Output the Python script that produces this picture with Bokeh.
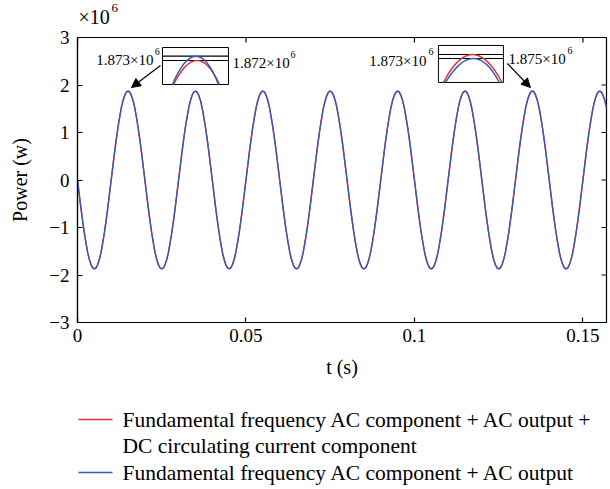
from bokeh.plotting import figure
from bokeh.layouts import column
from bokeh.models import Range1d, FixedTicker, Label, Arrow, NormalHead
from bokeh.core.properties import value
from bokeh.embed import file_html
from bokeh.resources import INLINE

# ---------------- data (time step 0.5 ms; power in units of 10^6 W) ----------------
time_halfms = list(range(315))

power_blue = [
    0.00, -0.29, -0.58, -0.85, -1.10, -1.32, -1.52, -1.67, -1.78, -1.85, -1.87, -1.85, -1.78, -1.67, -1.52, -1.32, -1.10, -0.85, -0.58, -0.29,
    0.00, 0.29, 0.58, 0.85, 1.10, 1.32, 1.52, 1.67, 1.78, 1.85, 1.873, 1.85, 1.78, 1.67, 1.52, 1.32, 1.10, 0.85, 0.58, 0.29,
    0.00, -0.29, -0.58, -0.85, -1.10, -1.32, -1.52, -1.67, -1.78, -1.85, -1.87, -1.85, -1.78, -1.67, -1.52, -1.32, -1.10, -0.85, -0.58, -0.29,
    0.00, 0.29, 0.58, 0.85, 1.10, 1.32, 1.52, 1.67, 1.78, 1.85, 1.873, 1.85, 1.78, 1.67, 1.52, 1.32, 1.10, 0.85, 0.58, 0.29,
    0.00, -0.29, -0.58, -0.85, -1.10, -1.32, -1.52, -1.67, -1.78, -1.85, -1.87, -1.85, -1.78, -1.67, -1.52, -1.32, -1.10, -0.85, -0.58, -0.29,
    0.00, 0.29, 0.58, 0.85, 1.10, 1.32, 1.52, 1.67, 1.78, 1.85, 1.873, 1.85, 1.78, 1.67, 1.52, 1.32, 1.10, 0.85, 0.58, 0.29,
    0.00, -0.29, -0.58, -0.85, -1.10, -1.32, -1.52, -1.67, -1.78, -1.85, -1.87, -1.85, -1.78, -1.67, -1.52, -1.32, -1.10, -0.85, -0.58, -0.29,
    0.00, 0.29, 0.58, 0.85, 1.10, 1.32, 1.52, 1.67, 1.78, 1.85, 1.873, 1.85, 1.78, 1.67, 1.52, 1.32, 1.10, 0.85, 0.58, 0.29,
    0.00, -0.29, -0.58, -0.85, -1.10, -1.32, -1.52, -1.67, -1.78, -1.85, -1.87, -1.85, -1.78, -1.67, -1.52, -1.32, -1.10, -0.85, -0.58, -0.29,
    0.00, 0.29, 0.58, 0.85, 1.10, 1.32, 1.52, 1.67, 1.78, 1.85, 1.873, 1.85, 1.78, 1.67, 1.52, 1.32, 1.10, 0.85, 0.58, 0.29,
    0.00, -0.29, -0.58, -0.85, -1.10, -1.32, -1.52, -1.67, -1.78, -1.85, -1.87, -1.85, -1.78, -1.67, -1.52, -1.32, -1.10, -0.85, -0.58, -0.29,
    0.00, 0.29, 0.58, 0.85, 1.10, 1.32, 1.52, 1.67, 1.78, 1.85, 1.873, 1.85, 1.78, 1.67, 1.52, 1.32, 1.10, 0.85, 0.58, 0.29,
    0.00, -0.29, -0.58, -0.85, -1.10, -1.32, -1.52, -1.67, -1.78, -1.85, -1.87, -1.85, -1.78, -1.67, -1.52, -1.32, -1.10, -0.85, -0.58, -0.29,
    0.00, 0.29, 0.58, 0.85, 1.10, 1.32, 1.52, 1.67, 1.78, 1.85, 1.873, 1.85, 1.78, 1.67, 1.52, 1.32, 1.10, 0.85, 0.58, 0.29,
    0.00, -0.29, -0.58, -0.85, -1.10, -1.32, -1.52, -1.67, -1.78, -1.85, -1.87, -1.85, -1.78, -1.67, -1.52, -1.32, -1.10, -0.85, -0.58, -0.29,
    0.00, 0.29, 0.58, 0.85, 1.10, 1.32, 1.52, 1.67, 1.78, 1.85, 1.873, 1.85, 1.78, 1.67, 1.52,
]

power_red = [
    0.00, -0.29, -0.58, -0.85, -1.10, -1.32, -1.52, -1.67, -1.78, -1.85, -1.87, -1.85, -1.78, -1.67, -1.52, -1.32, -1.10, -0.85, -0.58, -0.29,
    0.00, 0.29, 0.58, 0.85, 1.10, 1.32, 1.52, 1.67, 1.78, 1.85, 1.872, 1.85, 1.78, 1.67, 1.52, 1.32, 1.10, 0.85, 0.58, 0.29,
    0.00, -0.29, -0.58, -0.85, -1.10, -1.32, -1.52, -1.67, -1.78, -1.85, -1.87, -1.85, -1.78, -1.67, -1.52, -1.32, -1.10, -0.85, -0.58, -0.29,
    0.00, 0.29, 0.58, 0.85, 1.10, 1.32, 1.52, 1.67, 1.78, 1.85, 1.873, 1.85, 1.78, 1.67, 1.52, 1.32, 1.10, 0.85, 0.58, 0.29,
    0.00, -0.29, -0.58, -0.85, -1.10, -1.32, -1.52, -1.67, -1.78, -1.85, -1.87, -1.85, -1.78, -1.67, -1.52, -1.32, -1.10, -0.85, -0.58, -0.29,
    0.00, 0.29, 0.58, 0.85, 1.10, 1.32, 1.52, 1.67, 1.78, 1.85, 1.873, 1.85, 1.78, 1.67, 1.52, 1.32, 1.10, 0.85, 0.58, 0.29,
    0.00, -0.29, -0.58, -0.85, -1.10, -1.32, -1.52, -1.67, -1.78, -1.85, -1.87, -1.85, -1.78, -1.67, -1.52, -1.32, -1.10, -0.85, -0.58, -0.29,
    0.00, 0.29, 0.58, 0.85, 1.10, 1.32, 1.52, 1.67, 1.78, 1.85, 1.873, 1.85, 1.78, 1.67, 1.52, 1.32, 1.10, 0.85, 0.58, 0.29,
    0.00, -0.29, -0.58, -0.85, -1.10, -1.32, -1.52, -1.67, -1.78, -1.85, -1.87, -1.85, -1.78, -1.67, -1.52, -1.32, -1.10, -0.85, -0.58, -0.29,
    0.00, 0.29, 0.58, 0.85, 1.10, 1.32, 1.52, 1.67, 1.78, 1.85, 1.873, 1.85, 1.78, 1.67, 1.52, 1.32, 1.10, 0.85, 0.58, 0.29,
    0.00, -0.29, -0.58, -0.85, -1.10, -1.32, -1.52, -1.67, -1.78, -1.85, -1.87, -1.85, -1.78, -1.67, -1.52, -1.32, -1.10, -0.85, -0.58, -0.29,
    0.00, 0.29, 0.58, 0.85, 1.10, 1.32, 1.52, 1.67, 1.78, 1.85, 1.873, 1.85, 1.78, 1.67, 1.52, 1.32, 1.10, 0.85, 0.58, 0.29,
    0.00, -0.29, -0.58, -0.85, -1.10, -1.32, -1.52, -1.67, -1.78, -1.85, -1.87, -1.85, -1.78, -1.67, -1.52, -1.32, -1.10, -0.85, -0.58, -0.29,
    0.00, 0.29, 0.58, 0.85, 1.10, 1.32, 1.52, 1.67, 1.78, 1.85, 1.875, 1.85, 1.78, 1.67, 1.52, 1.32, 1.10, 0.85, 0.58, 0.29,
    0.00, -0.29, -0.58, -0.85, -1.10, -1.32, -1.52, -1.67, -1.78, -1.85, -1.87, -1.85, -1.78, -1.67, -1.52, -1.32, -1.10, -0.85, -0.58, -0.29,
    0.00, 0.29, 0.58, 0.85, 1.10, 1.32, 1.52, 1.67, 1.78, 1.85, 1.873, 1.85, 1.78, 1.67, 1.52,
]

x_ticks = [0, 0.05, 0.1, 0.15]
x_tick_labels = ["0", "0.05", "0.1", "0.15"]
y_ticks = [-3, -2, -1, 0, 1, 2, 3]
y_tick_labels = ["\u22123", "\u22122", "\u22121", "0", "1", "2", "3"]

peak_labels_left = ["1.873\u00d710", "1.872\u00d710"]
peak_labels_right = ["1.873\u00d710", "1.875\u00d710"]

legend_red = ["Fundamental frequency AC component + AC output +", "DC circulating current component"]
legend_blue = "Fundamental frequency AC component + AC output"

RED = "#e8312c"
BLUE = "#2d5bbf"
FONT = "Liberation Serif"

t_s = [k / 2000 for k in time_halfms]

X_MAX = 0.157
FRAME_L, FRAME_R = 77, 606   # px, shared by all three strips
FRAME_W = FRAME_R - FRAME_L
FRAME_H = 285.0
HDR_H = 26

# ---------------- header strip (axis multiplier) ----------------
hdr = figure(width=610, height=HDR_H, output_backend="svg", toolbar_location=None,
             x_range=Range1d(FRAME_L, FRAME_R), y_range=Range1d(HDR_H, 0),
             x_axis_type=None, y_axis_type=None,
             min_border_left=FRAME_L, min_border_right=610 - FRAME_R,
             min_border_top=0, min_border_bottom=0)
hdr.outline_line_color = None
hdr.grid.visible = False
hdr.text(x=[78], y=[16], text=["\u00d710"], text_font=value(FONT), text_font_size="20px",
         text_align="left", text_baseline="middle", text_color="black")
hdr.text(x=[111], y=[7.5], text=["6"], text_font=value(FONT), text_font_size="13px",
         text_align="left", text_baseline="middle", text_color="black")

# ---------------- main figure ----------------
p = figure(width=610, height=390 - HDR_H, output_backend="svg", toolbar_location=None,
           x_range=Range1d(0, X_MAX), y_range=Range1d(-3, 3),
           min_border_left=FRAME_L, min_border_right=610 - FRAME_R,
           min_border_top=37 - HDR_H, min_border_bottom=68)
p.background_fill_color = "white"
p.border_fill_color = "white"
p.outline_line_color = "black"
p.outline_line_width = 1.2
p.xgrid.visible = False
p.ygrid.visible = False

xa = p.xaxis[0]
xa.ticker = FixedTicker(ticks=x_ticks)
xa.major_label_overrides = {k: v for k, v in zip(x_ticks, x_tick_labels)}
ya = p.yaxis[0]
ya.ticker = FixedTicker(ticks=y_ticks)
ya.major_label_overrides = {k: v for k, v in zip(y_ticks, y_tick_labels)}

for ax in (xa, ya):
    ax.major_tick_in = 5
    ax.major_tick_out = 0
    ax.minor_tick_line_color = None
    ax.axis_line_color = "black"
    ax.axis_line_width = 1.2
    ax.major_tick_line_width = 1.2
    ax.major_label_text_font = FONT
    ax.major_label_text_font_size = "19px"
    ax.major_label_text_color = "black"
    ax.axis_label_text_font = FONT
    ax.axis_label_text_font_size = "20px"
    ax.axis_label_text_font_style = "normal"
    ax.axis_label_text_color = "black"

xa.axis_label = "t (s)"
xa.major_label_standoff = 6
xa.axis_label_standoff = 11
ya.axis_label = "Power (w)"
ya.major_label_standoff = 8
ya.axis_label_standoff = 15

# mirrored inward ticks on top and right edges (5 px long)
tick_dy = 5 * 6.0 / FRAME_H
tick_dx = 5 * X_MAX / FRAME_W
p.segment(x0=x_ticks, x1=x_ticks, y0=[3] * len(x_ticks), y1=[3 - tick_dy] * len(x_ticks),
          line_color="black", line_width=1.2)
p.segment(x0=[X_MAX] * len(y_ticks), x1=[X_MAX - tick_dx] * len(y_ticks), y0=y_ticks, y1=y_ticks,
          line_color="black", line_width=1.2)

# ---------------- curves ----------------
p.line(t_s, power_red, line_color=RED, line_width=1.5)
p.line(t_s, power_blue, line_color=BLUE, line_width=1.3)

# ---------------- insets (zoomed peaks) ----------------
def inset(l, r, b, t, y_up, y_lo, blue_arc, red_arc):
    p.quad(left=[l], right=[r], bottom=[b], top=[t], fill_color="white",
           line_color="black", line_width=1)
    p.segment(x0=[l, l], x1=[r, r], y0=[y_up, y_lo], y1=[y_up, y_lo],
              line_color="black", line_width=1.2)
    for (x0, x1, xp, yp), col in ((red_arc, RED), (blue_arc, BLUE)):
        p.quadratic(x0=[x0], y0=[b], x1=[x1], y1=[b], cx=[xp], cy=[2 * yp - b],
                    line_color=col, line_width=1.5)

inset(0.02522, 0.04481, 2.011, 2.789, 2.606, 2.516,
      (0.02819, 0.04184, 0.03531, 2.606), (0.02849, 0.04214, 0.03561, 2.516))
inset(0.10712, 0.12641, 2.053, 2.832, 2.642, 2.558,
      (0.10920, 0.12520, 0.11780, 2.558), (0.10860, 0.12600, 0.11720, 2.642))

def lab(x, y, text, size, align="left"):
    p.add_layout(Label(x=x, y=y, text=text, text_font=FONT, text_font_size=size,
                       text_align=align, text_baseline="middle", text_color="black"))

lab(0.02255, 2.516, peak_labels_left[0], "15px", "right")
lab(0.02290, 2.705, "6", "10px")
lab(0.04599, 2.453, peak_labels_left[1], "15px")
lab(0.06320, 2.642, "6", "10px")
lab(0.10356, 2.495, peak_labels_right[0], "15px", "right")
lab(0.10415, 2.705, "6", "10px")
lab(0.12789, 2.537, peak_labels_right[1], "15px")
lab(0.14540, 2.726, "6", "10px")

p.add_layout(Arrow(end=NormalHead(size=9, fill_color="black", line_color="black"),
                   x_start=0.02463, y_start=2.411, x_end=0.01602, y_end=1.947,
                   line_color="black", line_width=1.2))
p.add_layout(Arrow(end=NormalHead(size=9, fill_color="black", line_color="black"),
                   x_start=0.12760, y_start=2.453, x_end=0.13442, y_end=1.947,
                   line_color="black", line_width=1.2))

# ---------------- legend strip ----------------
leg = figure(width=610, height=99, output_backend="svg", toolbar_location=None,
             x_range=Range1d(FRAME_L, FRAME_R), y_range=Range1d(99, 0),
             x_axis_type=None, y_axis_type=None,
             min_border_left=FRAME_L, min_border_right=610 - FRAME_R,
             min_border_top=0, min_border_bottom=0)
leg.outline_line_color = None
leg.grid.visible = False
leg.segment(x0=[78], x1=[112], y0=[29], y1=[29], line_color=RED, line_width=1.3)
leg.segment(x0=[78], x1=[112], y0=[82], y1=[82], line_color=BLUE, line_width=1.3)
leg.text(x=[122, 122, 122], y=[29, 55.5, 82], text=[legend_red[0], legend_red[1], legend_blue],
         text_font=value(FONT), text_font_size="21.5px", text_align="left",
         text_baseline="middle", text_color="black")

layout = column(hdr, p, leg, spacing=0)
open("out.html", "w").write(file_html(layout, INLINE))
